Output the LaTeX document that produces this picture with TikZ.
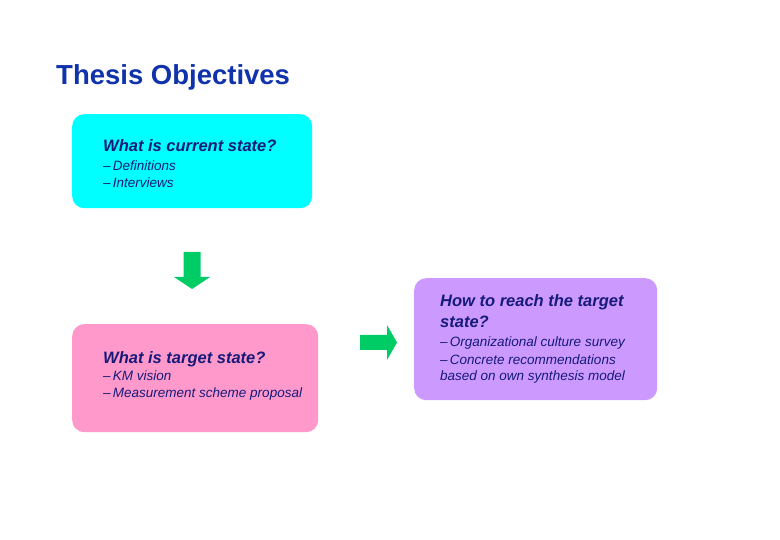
\documentclass[tikz,border=0pt]{standalone}
\usepackage{fontspec}
\setmainfont{Liberation Sans}
\usetikzlibrary{calc}

\definecolor{titleblue}{RGB}{16,50,170}
\definecolor{navy}{RGB}{22,26,120}
\definecolor{boxcyan}{RGB}{0,255,255}
\definecolor{boxpink}{RGB}{255,153,204}
\definecolor{boxpurple}{RGB}{204,153,255}
\definecolor{arrowgreen}{RGB}{0,204,102}

\begin{document}
\begin{tikzpicture}[x=1pt, y=-1pt]
    \tikzstyle{goal} = [rectangle, rounded corners=12pt, draw=none, anchor=north west, inner sep=0pt]
    \tikzstyle{heading} = [anchor=base west, inner sep=0pt, text=navy, font=\fontsize{16.5}{19}\selectfont\bfseries\itshape]
    \tikzstyle{item} = [anchor=base west, inner sep=0pt, text=navy, font=\fontsize{13.5}{15}\selectfont\itshape]

    \useasboundingbox (0, 0) rectangle (780, 540);

    % Title ---------------------------------------------
    \node (T) at (56, 85) [anchor=base west, inner sep=0pt, text=titleblue,
        font=\fontsize{27.5}{30}\selectfont\bfseries] {Thesis Objectives};

    % Current state -------------------------------------
    \node (C) at (72, 114) [goal, fill=boxcyan, minimum width=240pt, minimum height=94pt] {};
    \node (C1) at ($(C.north west) + (31, 38)$) [heading] {What is current state?};
    \node (C2) at ($(C1.base west) + (0, 19)$) [item] {–\,Definitions};
    \node (C3) at ($(C2.base west) + (0, 17)$) [item] {–\,Interviews};

    % Target state --------------------------------------
    \node (P) at (72, 324) [goal, fill=boxpink, minimum width=246pt, minimum height=108pt] {};
    \node (P1) at ($(P.north west) + (31, 39)$) [heading] {What is target state?};
    \node (P2) at ($(P1.base west) + (0, 18)$) [item] {–\,KM vision};
    \node (P3) at ($(P2.base west) + (0, 17)$) [item] {–\,Measurement scheme proposal};

    % How to reach --------------------------------------
    \node (R) at (414, 278) [goal, fill=boxpurple, minimum width=243pt, minimum height=122pt] {};
    \node (R1) at ($(R.north west) + (26, 29)$) [heading] {How to reach the target};
    \node (R2) at ($(R1.base west) + (0, 21)$) [heading] {state?};
    \node (R3) at ($(R2.base west) + (0, 19)$) [item] {–\,Organizational culture survey};
    \node (R4) at ($(R3.base west) + (0, 17)$) [item] {–\,Concrete recommendations};
    \node (R5) at ($(R4.base west) + (0, 17)$) [item] {based on own synthesis model};
    % ---------------------------------------------------

    % Block arrows
    \coordinate (down) at (192, 252);
    \fill[arrowgreen] ($(down) + (-8.5, 0)$) -- ($(down) + (8.5, 0)$) -- ($(down) + (8.5, 25)$)
        -- ($(down) + (18, 25)$) -- ($(down) + (0, 37)$) -- ($(down) + (-18, 25)$)
        -- ($(down) + (-8.5, 25)$) -- cycle;

    \coordinate (right) at (360, 342.5);
    \fill[arrowgreen] ($(right) + (0, -7.5)$) -- ($(right) + (27, -7.5)$) -- ($(right) + (27, -17.5)$)
        -- ($(right) + (37, 0)$) -- ($(right) + (27, 17.5)$) -- ($(right) + (27, 7.5)$)
        -- ($(right) + (0, 7.5)$) -- cycle;
\end{tikzpicture}
\end{document}
